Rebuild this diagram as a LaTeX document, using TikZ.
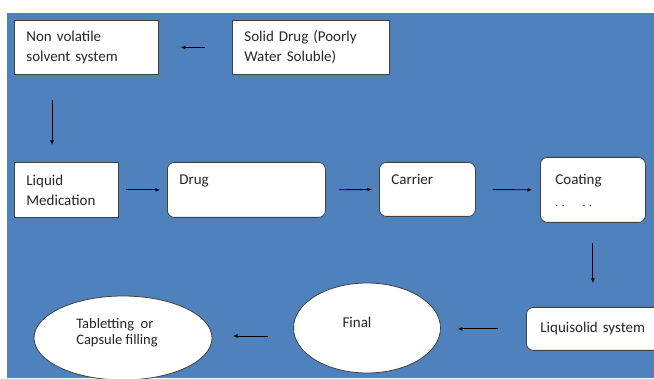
\documentclass[tikz,border=0pt]{standalone}
\usepackage{fontspec}
\setmainfont{Carlito}
\usetikzlibrary{arrows.meta,shapes.geometric}
\definecolor{bgblue}{HTML}{4F81BD}
\definecolor{edgegray}{HTML}{404040}
\begin{document}
\begin{tikzpicture}[x=1pt,y=-1pt,
  txt/.style={font=\fontsize{15}{20}\selectfont, text=black!85},
  box/.style={txt, draw=edgegray, line width=0.8pt, fill=white, align=left,
    anchor=north west, inner xsep=12pt, inner ysep=0pt},
  rbox/.style={box, rounded corners=7pt},
  oval/.style={ellipse, draw=edgegray, line width=0.8pt, fill=white, inner sep=0pt},
  arr/.style={-{Latex[length=4.5pt,width=4pt]}, line width=0.9pt, black}]
\clip (0,0) rectangle (654,379);
\fill[white] (0,0) rectangle (654,379);
\fill[bgblue] (7,13) rectangle (654,378);
% boxes
\node[box, text width=120pt, minimum height=54pt] (nv) at (14,20) {Non volatile\\solvent system};
\node[box, text width=133pt, minimum height=54pt] (sd) at (232,20) {Solid Drug (Poorly\\Water Soluble)};
\node[box, text width=80pt, minimum height=55pt] (lm) at (14,162) {Liquid\\Medication};
\node[rbox, text width=134pt, minimum height=55pt] (drug) at (167,162) {Drug\\\phantom{x}};
\node[rbox, text width=72pt, minimum height=54pt] (car) at (379,162) {Carrier\\\phantom{x}};
\node[rbox, inner xsep=15pt, text width=75pt, minimum height=65pt] (coat) at (540,157) {Coating\\[2pt]{\fontsize{11}{12}\selectfont .\,\,.\hspace{18pt}.\,\,.}};
\node[rbox, inner xsep=14pt, text width=130pt, minimum height=43pt] (liq) at (526,307) {Liquisolid system};
% ellipses
\node[oval, minimum width=147pt, minimum height=90pt] (fin) at (367,328) {};
\node[txt, anchor=center] (fint) at (357,322) {Final};
\node[oval, minimum width=178pt, minimum height=84pt] (tab) at (123,338) {};
\node[txt, font=\fontsize{14.5}{16}\selectfont, align=left, anchor=center] (tabt) at (117,333) {Tabletting~~or\\Capsule filling};
% connectors
\coordinate (nvdown) at (52,100);
\coordinate (lmup) at (52,145);
\coordinate (finout) at (268,336);
\coordinate (tabin) at (233,336);
\draw[arr, shorten <=27pt, shorten >=22pt] (sd.west) -- (nv.east);
\draw[arr] (nvdown) -- (lmup);
\draw[arr, shorten <=7pt, shorten >=7pt] (lm.east) -- (drug.west);
\draw[arr, shorten <=13pt, shorten >=7pt] (drug.east) -- (car.west);
\draw[arr, shorten <=17pt, shorten >=8pt] (car.east) -- (coat.west);
\draw[arr, shorten <=20pt, shorten >=24pt] (coat.south) -- (coat.south |- liq.north);
\draw[arr, shorten <=28pt, shorten >=17pt] (liq.west) -- (fin.east |- liq.west);
\draw[arr] (finout) -- (tabin);
\end{tikzpicture}
\end{document}
